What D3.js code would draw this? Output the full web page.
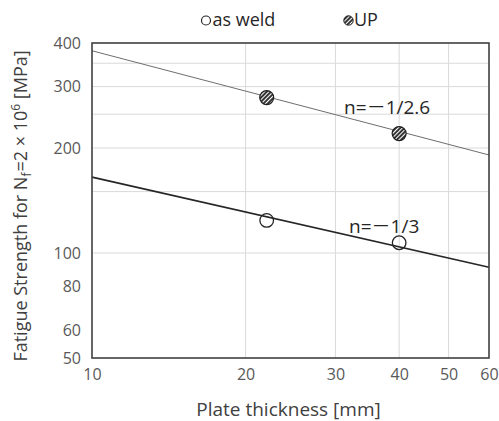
<!DOCTYPE html>
<html>
<head>
<meta charset="utf-8">
<script src="https://cdn.jsdelivr.net/npm/d3@7"></script>
<style>
  body { margin: 0; background: #fff; }
  svg text { font-family: "Open Sans", "Noto Sans", sans-serif; }
  .cjk { font-family: "Noto Sans CJK JP", sans-serif; }
</style>
</head>
<body>
<div id="graf"></div>
<script>
// datos
const xTicks = [10, 20, 30, 40, 50, 60]
const yTicks = [50, 60, 80, 100, 200, 300, 400]
const xGrid = [20, 30, 40, 50]
const yGrid = [100, 150, 200, 250, 300, 350]

const thickness = [22, 40]
const asWeld = [124, 107]
const up = [279, 220]

// lineas de ajuste (extremos)
const fitT = [10, 60]
const fitUP = [380, 191]
const fitWeld = [165, 91]

const anchoTotal = 499
const altoTotal = 421
const margins = { top: 43, right: 10, bottom: 63, left: 92 }
const ancho = anchoTotal - margins.left - margins.right
const alto = altoTotal - margins.top - margins.bottom

const svg = d3.select("#graf").append("svg").attr("width", anchoTotal).attr("height", altoTotal)

const defs = svg.append("defs")
const pat = defs.append("pattern").attr("id", "hatch").attr("patternUnits", "userSpaceOnUse")
    .attr("width", 3).attr("height", 3).attr("patternTransform", "rotate(-45)")
pat.append("rect").attr("width", 3).attr("height", 3).attr("fill", "#2b2b2b")
pat.append("rect").attr("width", 3).attr("height", 1.1).attr("fill", "#fff")

const g = svg.append("g").attr("transform", `translate(${margins.left}, ${margins.top})`)

const x = d3.scaleLog().domain([10, 60]).range([0, ancho])
const y = d3.scaleLog().domain([50, 400]).range([alto, 0])

// grilla
g.selectAll(".gx").data(xGrid).enter().append("line")
    .attr("x1", d => x(d)).attr("x2", d => x(d)).attr("y1", 0).attr("y2", alto)
    .attr("stroke", "#d9d9d9").attr("stroke-width", 1)
g.selectAll(".gy").data(yGrid).enter().append("line")
    .attr("x1", 0).attr("x2", ancho).attr("y1", d => y(d)).attr("y2", d => y(d))
    .attr("stroke", "#d9d9d9").attr("stroke-width", 1)

// ejes
const xAxis = d3.axisBottom(x).tickValues(xTicks).tickFormat(d3.format("d")).tickSize(0).tickPadding(11)
const yAxis = d3.axisLeft(y).tickValues(yTicks).tickFormat(d3.format("d")).tickSize(0).tickPadding(11)
const gx = g.append("g").attr("transform", `translate(0, ${alto})`).call(xAxis)
const gy = g.append("g").call(yAxis)
gx.select(".domain").remove()
gy.select(".domain").remove()
gx.selectAll("text").attr("font-size", 16).attr("fill", "#595959").attr("font-family", "Open Sans")
gy.selectAll("text").attr("font-size", 16).attr("fill", "#595959").attr("font-family", "Open Sans")

// lineas
const linea = d3.line().x(d => x(d[0])).y(d => y(d[1]))
g.append("path").datum(d3.zip(fitT, fitUP)).attr("d", linea)
    .attr("fill", "none").attr("stroke", "#6e6e6e").attr("stroke-width", 1)
g.append("path").datum(d3.zip(fitT, fitWeld)).attr("d", linea)
    .attr("fill", "none").attr("stroke", "#262626").attr("stroke-width", 1.6)

// puntos
g.selectAll(".up").data(d3.zip(thickness, up)).enter().append("circle")
    .attr("cx", d => x(d[0])).attr("cy", d => y(d[1])).attr("r", 7)
    .attr("fill", "url(#hatch)").attr("stroke", "#1f1f1f").attr("stroke-width", 1.2)
g.selectAll(".weld").data(d3.zip(thickness, asWeld)).enter().append("circle")
    .attr("cx", d => x(d[0])).attr("cy", d => y(d[1])).attr("r", 6.8)
    .attr("fill", "none").attr("stroke", "#262626").attr("stroke-width", 1.3)

// marco
g.append("rect").attr("width", ancho).attr("height", alto)
    .attr("fill", "none").attr("stroke", "#404040").attr("stroke-width", 1.6)

// anotaciones
const etiqueta = (tx, ty, resto) => {
    const t = g.append("text").attr("x", x(tx)).attr("y", y(ty)).attr("font-size", 19).attr("fill", "#262626")
    t.append("tspan").text("n=")
    t.append("tspan").attr("class", "cjk").text("－")
    t.append("tspan").text(resto)
}
etiqueta(31.2, 250, "1/2.6")
etiqueta(31.9, 114.3, "1/3")

// titulos
svg.append("text").attr("x", margins.left + ancho / 2 - 2).attr("y", 416).attr("text-anchor", "middle")
    .attr("font-size", 19).attr("fill", "#404040").text("Plate thickness [mm]")

const yt = svg.append("text").attr("transform", "translate(27, 206) rotate(-90)")
    .attr("text-anchor", "middle").attr("font-size", 18).attr("fill", "#404040")
yt.append("tspan").text("Fatigue Strength for N")
yt.append("tspan").attr("font-size", 12).attr("dy", 4).text("f")
yt.append("tspan").attr("dy", -4).attr("dx", 1).text("=2 × 10")
yt.append("tspan").attr("font-size", 12).attr("dy", -7).text("6")
yt.append("tspan").attr("dy", 7).text(" [MPa]")

// leyenda
const ley = svg.append("g")
ley.append("circle").attr("cx", 206).attr("cy", 20.5).attr("r", 4.5)
    .attr("fill", "none").attr("stroke", "#262626").attr("stroke-width", 1.2)
ley.append("text").attr("x", 212.5).attr("y", 26).attr("font-size", 18).attr("fill", "#262626").text("as weld")
ley.append("circle").attr("cx", 348.5).attr("cy", 20.5).attr("r", 4.7)
    .attr("fill", "url(#hatch)").attr("stroke", "#1f1f1f").attr("stroke-width", 1)
ley.append("text").attr("x", 354).attr("y", 26).attr("font-size", 18).attr("fill", "#262626").text("UP")
</script>
</body>
</html>
